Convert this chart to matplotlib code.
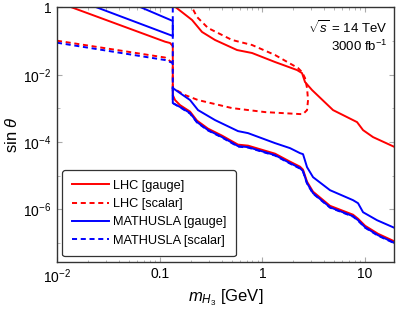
import matplotlib
matplotlib.use("Agg")
import matplotlib.pyplot as plt
import numpy as np

plt.rcParams['font.family'] = ['Liberation Sans', 'DejaVu Sans']
plt.rcParams['mathtext.fontset'] = 'custom'
plt.rcParams['mathtext.rm'] = 'Liberation Sans'
plt.rcParams['mathtext.it'] = 'Liberation Sans:italic'
plt.rcParams['mathtext.bf'] = 'Liberation Sans:bold'

# LHC, gauge (solid red): left piece + lower branch, then upper-right branch
lhc_gauge_m = [0.0140, 0.1127, 0.1260, 0.134, 0.134, 0.1410, 0.1577, 0.1973, 0.2307,
               0.2953, 0.4043, 0.5785, 0.7238, 1.326, 1.857, 2.323, 2.484, 2.718,
               3.110, 4.551, 7.623, 8.528, 9.98, 13.36, 20.0]
lhc_gauge_s = [1.0, 0.0960, 0.0878, 0.0715, 2.49e-3, 1.77e-3, 1.25e-3, 8.03e-4, 4.33e-4,
               2.50e-4, 1.55e-4, 8.37e-5, 7.81e-5, 4.51e-5, 2.61e-5, 1.85e-5, 1.51e-5, 6.63e-6,
               3.34e-6, 1.27e-6, 6.91e-7, 5.25e-7, 3.25e-7, 1.87e-7, 1.06e-7]
lhc_gauge_up_m = [0.1440, 0.2063, 0.2580, 0.3454, 0.5659, 0.7918, 1.326, 2.172, 2.429,
                  2.598, 3.041, 4.869, 8.340, 9.541, 11.94, 20.0]
lhc_gauge_up_s = [1.0, 0.425, 0.187, 0.108, 0.0543, 0.0443, 0.0239, 0.0138, 0.0112,
                  0.00607, 0.00351, 8.9e-4, 3.91e-4, 2.26e-4, 1.40e-4, 6.8e-5]

# LHC, scalar (dashed red): one loop
lhc_scalar_m = [0.0100, 0.1127, 0.134, 0.134, 0.1764, 0.2360, 0.5058, 1.060, 2.323, 2.484,
                2.718, 2.780, 2.718, 2.598, 2.429, 2.222, 1.326, 0.7918, 0.5058, 0.2953,
                0.2307, 0.2063]
lhc_scalar_s = [0.1028, 0.0325, 0.0223, 0.00402, 0.00249, 0.00177, 0.00102, 7.76e-4, 6.77e-4,
                6.77e-4, 8.9e-4, 0.00177, 0.00402, 0.00797, 0.0120, 0.0158, 0.0386, 0.0766,
                0.108, 0.245, 0.521, 1.0]

# MATHUSLA, gauge (solid blue): left wedge and right band
mat_gauge_wedge_m = [0.0245, 0.134, 0.134, 0.0660]
mat_gauge_wedge_s = [1.0, 0.142, 0.397, 1.0]
mat_gauge_lo_m = [0.134, 0.134, 0.1649, 0.1973, 0.2307, 0.2953, 0.4043, 0.5785, 0.7238,
                  1.326, 1.857, 2.323, 2.484, 2.718, 3.110, 4.551, 7.623, 8.528, 9.98,
                  13.36, 20.0]
mat_gauge_lo_s = [4.02e-3, 1.44e-3, 1.02e-3, 7.25e-4, 3.91e-4, 2.26e-4, 1.40e-4, 7.55e-5,
                  7.05e-5, 4.07e-5, 2.36e-5, 1.67e-5, 1.36e-5, 5.98e-6, 3.01e-6, 1.15e-6,
                  6.24e-7, 4.74e-7, 2.93e-7, 1.69e-7, 9.6e-8]
mat_gauge_up_m = [0.134, 0.1973, 0.2360, 0.3454, 0.5785, 0.7238, 1.326, 1.857, 2.323, 2.484,
                  2.718, 3.110, 4.551, 7.623, 8.528, 9.541, 13.06, 20.0]
mat_gauge_up_s = [4.02e-3, 1.77e-3, 8.9e-4, 4.49e-4, 2.11e-4, 1.84e-4, 9.28e-5, 6.58e-5,
                  4.67e-5, 4.36e-5, 1.79e-5, 9.02e-6, 3.70e-6, 1.87e-6, 1.52e-6, 8.2e-7,
                  4.74e-7, 2.68e-7]

# MATHUSLA, scalar (dashed blue)
mat_scalar_left_m = [0.0100, 0.1127, 0.134]
mat_scalar_left_s = [0.0896, 0.0274, 0.0223]
mat_scalar_lo_m = [0.134, 0.134, 0.1649, 0.1973, 0.2307, 0.2953, 0.4043, 0.5785, 0.7238,
                   1.326, 1.857, 2.323, 2.484, 2.718, 3.110, 4.551, 7.623, 8.528, 9.98,
                   13.36, 20.0]
mat_scalar_lo_s = [1.0, 1.44e-3, 9.9e-4, 7.0e-4, 3.8e-4, 2.2e-4, 1.36e-4, 7.3e-5, 6.85e-5,
                   3.95e-5, 2.29e-5, 1.62e-5, 1.32e-5, 5.8e-6, 2.92e-6, 1.12e-6, 6.05e-7,
                   4.6e-7, 2.84e-7, 1.64e-7, 9.3e-8]

labels = ["LHC [gauge]", "LHC [scalar]", "MATHUSLA [gauge]", "MATHUSLA [scalar]"]
xticks = [0.01, 0.1, 1, 10]
xticklabels = [r"$10^{-2}$", "0.1", "1", "10"]
yticks = [1, 1e-2, 1e-4, 1e-6]
yticklabels = ["1", r"$10^{-2}$", r"$10^{-4}$", r"$10^{-6}$"]

RED = '#ff0000'
BLUE = '#0000ff'
LW = 1.4
DASH = (0, (2.6, 1.9))

fig = plt.figure(figsize=(3.99, 3.11), dpi=100)
ax = fig.add_axes([0.1429, 0.159, 0.8446, 0.817])

ax.plot(lhc_gauge_m, lhc_gauge_s, color=RED, lw=LW, label=labels[0])
ax.plot(lhc_gauge_up_m, lhc_gauge_up_s, color=RED, lw=LW)
ax.plot(lhc_scalar_m, lhc_scalar_s, color=RED, lw=LW, ls=DASH, label=labels[1])
ax.plot(mat_gauge_wedge_m, mat_gauge_wedge_s, color=BLUE, lw=LW, label=labels[2])
ax.plot(mat_gauge_lo_m, mat_gauge_lo_s, color=BLUE, lw=LW)
ax.plot(mat_gauge_up_m, mat_gauge_up_s, color=BLUE, lw=LW)
ax.plot(mat_scalar_left_m, mat_scalar_left_s, color=BLUE, lw=LW, ls=DASH, label=labels[3])
ax.plot(mat_scalar_lo_m, mat_scalar_lo_s, color=BLUE, lw=LW, ls=DASH)

ax.set_xscale('log')
ax.set_yscale('log')
ax.set_xlim(0.01, 19.1)
ax.set_ylim(2.8e-8, 1)

ax.set_xticks(xticks)
ax.set_xticklabels(xticklabels)
ax.set_yticks(yticks)
ax.set_yticklabels(yticklabels)
ax.tick_params(which='both', direction='in', color='#aaaaaa', top=True, right=True,
               labelsize=10, pad=4)
ax.tick_params(which='major', length=3.5)
ax.tick_params(which='minor', length=1.8)
ax.yaxis.set_minor_locator(matplotlib.ticker.FixedLocator([1e-1, 1e-3, 1e-5, 1e-7]))
ax.yaxis.set_minor_formatter(matplotlib.ticker.NullFormatter())
for sp in ax.spines.values():
    sp.set_color('#333333')
    sp.set_linewidth(1.0)

ax.set_xlabel(r"$m_{H_3}$ [GeV]", fontsize=12, labelpad=1)
ax.set_ylabel(r"sin $\theta$", fontsize=12, labelpad=2)

ax.text(0.98, 0.955, r"$\sqrt{s}$ = 14 TeV", transform=ax.transAxes,
        ha='right', va='top', fontsize=9.5)
ax.text(0.98, 0.875, r"3000 fb$^{-1}$", transform=ax.transAxes,
        ha='right', va='top', fontsize=9.5)

leg = ax.legend(loc='lower left', fontsize=9.2, handlelength=2.9, handletextpad=0.3,
                labelspacing=0.5, borderpad=0.75, borderaxespad=0.4, fancybox=True,
                framealpha=1, edgecolor='#333333')
leg.get_frame().set_linewidth(0.9)

fig.savefig("out.png", dpi=100)
